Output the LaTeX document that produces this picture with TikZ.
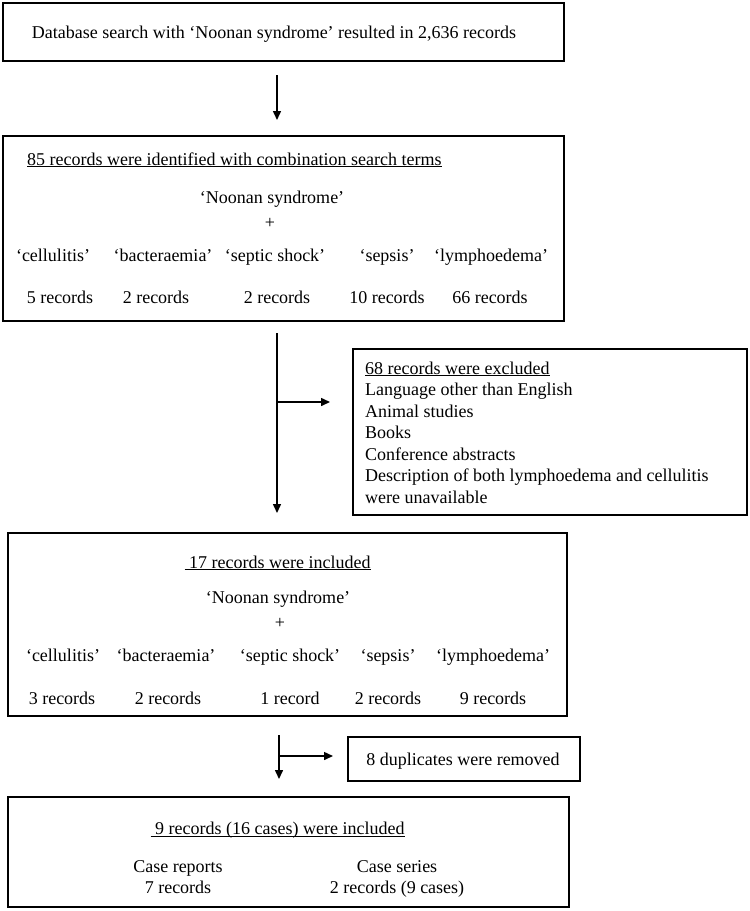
\documentclass[tikz,border=0pt]{standalone}
\usepackage{fontspec}
\setmainfont{Liberation Serif}
\usetikzlibrary{arrows.meta}
\newcommand\uln[1]{\underline{\smash{#1}}}
\begin{document}
\begin{tikzpicture}[x=1pt,y=-1pt,
  box/.style={draw=black, line width=2pt, inner sep=0pt},
  txt/.style={inner sep=0pt, font=\fontsize{18}{21.4}\selectfont, anchor=base},
  txtl/.style={txt, anchor=base west},
  arr/.style={line width=1.5pt, -{Triangle[length=9pt,width=8pt]}}
]
\useasboundingbox (0,0) rectangle (750,911);
\fill[white] (0,0) rectangle (750,911);

% Box 1
\node[box, minimum width=561pt, minimum height=58pt] (b1) at (283.5,32) {};
\node[txt] (t1) at (274,38.5) {Database search with ‘Noonan syndrome’ resulted in 2,636 records};

% Box 2
\node[box, minimum width=561pt, minimum height=185pt] (b2) at (283.5,228.5) {};
\node[txtl] (t2) at (27,165) {\uln{85 records were identified with combination search terms}};
\node[txt] (t2n) at (272,203.5) {‘Noonan syndrome’};
\node[txt] (t2p) at (270,228.5) {+};
\node[txt] (t2a) at (53,261.5) {‘cellulitis’};
\node[txt] (t2b) at (163,261.5) {‘bacteraemia’};
\node[txt] (t2c) at (275,261.5) {‘septic shock’};
\node[txt] (t2d) at (387,261.5) {‘sepsis’};
\node[txt] (t2e) at (491,261.5) {‘lymphoedema’};
\node[txt] (r2a) at (60,303.5) {5 records};
\node[txt] (r2b) at (156,303.5) {2 records};
\node[txt] (r2c) at (277,303.5) {2 records};
\node[txt] (r2d) at (387,303.5) {10 records};
\node[txt] (r2e) at (490,303.5) {66 records};

% Box 3 (exclusions)
\node[box, minimum width=394pt, minimum height=166pt] (b3) at (550,432) {};
\node[txtl] (t3a) at (365,374) {\uln{68 records were excluded}};
\node[txtl] (t3b) at (365,395.5) {Language other than English};
\node[txtl] (t3c) at (365,417) {Animal studies};
\node[txtl] (t3d) at (365,438.5) {Books};
\node[txtl] (t3e) at (365,460) {Conference abstracts};
\node[txtl] (t3f) at (365,481.5) {Description of both lymphoedema and cellulitis};
\node[txtl] (t3g) at (365,503) {were unavailable};

% Box 4
\node[box, minimum width=559pt, minimum height=183pt] (b4) at (287.5,624.5) {};
\node[txtl] (t4) at (184.5,568) {\uln{\ 17 records were included}};
\node[txt] (t4n) at (278,603.5) {‘Noonan syndrome’};
\node[txt] (t4p) at (280,628.5) {+};
\node[txt] (t4a) at (63,661) {‘cellulitis’};
\node[txt] (t4b) at (166,661) {‘bacteraemia’};
\node[txt] (t4c) at (290,661) {‘septic shock’};
\node[txt] (t4d) at (388,661) {‘sepsis’};
\node[txt] (t4e) at (493,661) {‘lymphoedema’};
\node[txt] (r4a) at (62,704.5) {3 records};
\node[txt] (r4b) at (168,704.5) {2 records};
\node[txt] (r4c) at (290,704.5) {1 record};
\node[txt] (r4d) at (388,704.5) {2 records};
\node[txt] (r4e) at (493,704.5) {9 records};

% Duplicates box
\node[box, minimum width=232pt, minimum height=44pt] (dup) at (464,759) {};
\node[txt] (tdup) at (463,765.5) {8 duplicates were removed};

% Box 5
\node[box, minimum width=561pt, minimum height=110pt] (b5) at (288.5,852) {};
\node[txtl] (t5) at (150.5,834.5) {\uln{\ 9 records (16 cases) were included}};
\node[txt] (t5a) at (178,872) {Case reports};
\node[txt] (t5b) at (178,893) {7 records};
\node[txt] (t5c) at (397,872) {Case series};
\node[txt] (t5d) at (397,893) {2 records (9 cases)};

% Arrow coordinates
\coordinate (a1s) at (277,75);
\coordinate (a1e) at (277,120);
\coordinate (a2s) at (277,333);
\coordinate (a2e) at (277,513);
\coordinate (j2) at (277,402);
\coordinate (e2) at (330,402);
\coordinate (a3s) at (279,735);
\coordinate (a3e) at (279,779);
\coordinate (j3) at (279,756);
\coordinate (e3) at (333,756);

\draw[arr] (a1s) -- (a1e);
\draw[arr] (a2s) -- (a2e);
\draw[arr] (j2) -- (e2);
\draw[arr] (a3s) -- (a3e);
\draw[arr] (j3) -- (e3);
\end{tikzpicture}
\end{document}
